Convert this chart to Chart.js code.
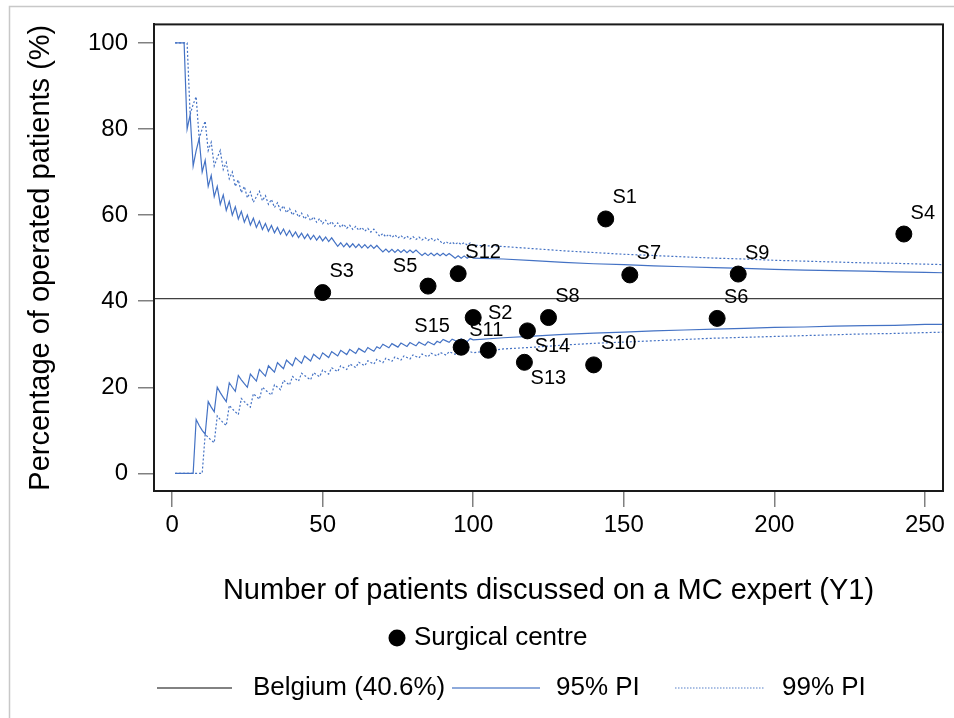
<!DOCTYPE html>
<html>
<head>
<meta charset="utf-8">
<script src="https://cdn.jsdelivr.net/npm/chart.js@4.4.1/dist/chart.umd.min.js"></script>
<style>
    html, body { margin: 0; padding: 0; background: #fff; }
    #wrap { width: 954px; height: 718px; }
</style>
</head>
<body>
<div id="wrap"><canvas id="funnelChart" width="954" height="718"></canvas></div>
<script>
// surgical centres
let centreNames = ['S1', 'S2', 'S3', 'S4', 'S5', 'S6', 'S7', 'S8', 'S9', 'S10', 'S11', 'S12', 'S13', 'S14', 'S15'];
let centrePatients = [144, 100, 50, 243, 85, 181, 152, 125, 188, 140, 105, 95, 117, 118, 96];
let centrePercent = [59.1, 36.2, 42.0, 55.6, 43.5, 36.0, 46.1, 36.2, 46.3, 25.2, 28.6, 46.4, 25.8, 33.1, 29.3];

let belgiumPercent = 40.6;

// funnel limits (number of patients -> %)
let limitPatients = [1, 2, 3, 4, 5, 6, 7, 8, 9, 10, 11, 12, 13, 14, 15, 16, 17, 18, 19, 20,
    21, 22, 23, 24, 25, 26, 27, 28, 29, 30, 31, 32, 33, 34, 35, 36, 37, 38, 39, 40,
    41, 42, 43, 44, 45, 46, 47, 48, 49, 50, 51, 52, 53, 54, 55, 56, 57, 58, 59, 60,
    61, 62, 63, 64, 65, 66, 67, 68, 69, 70, 71, 72, 73, 74, 75, 76, 77, 78, 79, 80,
    81, 82, 83, 84, 85, 86, 87, 88, 89, 90, 91, 92, 93, 94, 95, 96, 97, 98, 99, 100,
    110, 120, 130, 140, 150, 160, 170, 180, 190, 200, 210, 220, 230, 240, 250, 256];
let upper95 = [100, 100, 100, 100, 80, 83.33, 71.43, 75, 77.78, 70,
    72.73, 66.67, 69.23, 64.29, 66.67, 62.5, 64.71, 61.11, 63.16, 60,
    61.9, 59.09, 60.87, 58.33, 60, 57.69, 59.26, 57.14, 58.62, 56.67,
    58.06, 56.25, 57.58, 55.88, 57.14, 55.56, 56.76, 55.26, 56.41, 55,
    56.1, 54.76, 55.81, 54.55, 55.56, 54.35, 55.32, 54.17, 55.1, 54,
    54.9, 53.85, 54.72, 53.7, 52.73, 53.57, 52.63, 53.45, 52.54, 53.33,
    52.46, 53.23, 52.38, 53.13, 52.31, 53.03, 52.24, 52.94, 52.17, 51.43,
    52.11, 51.39, 52.05, 51.35, 52, 51.32, 51.95, 51.28, 51.9, 51.25,
    51.85, 51.22, 50.6, 51.19, 50.59, 51.16, 50.57, 51.14, 50.56, 51.11,
    50.55, 51.09, 50.54, 50, 50.53, 50, 50.52, 50, 50.51, 50,
    49.8, 49.4, 49.0, 48.7, 48.5, 48.2, 48.0, 47.8, 47.6, 47.4, 47.2, 47.1, 47.0, 46.8, 46.7, 46.6];
let upper99 = [100, 100, 100, 100, 100, 83.33, 85.71, 87.5, 77.78, 80,
    81.82, 75, 76.92, 71.43, 73.33, 75, 70.59, 72.22, 68.42, 70,
    66.67, 68.18, 65.22, 66.67, 64, 65.38, 62.96, 64.29, 65.52, 63.33,
    64.52, 62.5, 63.64, 61.76, 62.86, 61.11, 62.16, 60.53, 61.54, 60,
    60.98, 59.52, 60.47, 59.09, 60, 58.7, 59.57, 58.33, 59.18, 58,
    58.82, 57.69, 58.49, 57.41, 58.18, 57.14, 57.89, 56.9, 57.63, 56.67,
    57.38, 56.45, 57.14, 56.25, 56.92, 56.06, 56.72, 55.88, 55.07, 55.71,
    54.93, 55.56, 54.79, 55.41, 54.67, 55.26, 54.55, 55.13, 54.43, 55,
    54.32, 54.88, 54.22, 54.76, 54.12, 54.65, 54.02, 54.55, 53.93, 53.33,
    53.85, 53.26, 53.76, 53.19, 53.68, 53.13, 53.61, 53.06, 53.54, 53,
    52.7, 52.2, 51.7, 51.3, 50.9, 50.6, 50.3, 50.0, 49.8, 49.5, 49.3, 49.1, 48.9, 48.8, 48.6, 48.5];
let lower95 = [0, 0, 0, 0, 0, 0, 0, 12.5, 11.11, 10,
    9.09, 16.67, 15.38, 14.29, 20, 18.75, 17.65, 16.67, 21.05, 20,
    19.05, 22.73, 21.74, 20.83, 20, 23.08, 22.22, 21.43, 24.14, 23.33,
    22.58, 25, 24.24, 23.53, 25.71, 25, 24.32, 26.32, 25.64, 25,
    26.83, 26.19, 25.58, 27.27, 26.67, 26.09, 27.66, 27.08, 26.53, 28,
    27.45, 26.92, 28.3, 27.78, 27.27, 28.57, 28.07, 27.59, 28.81, 28.33,
    27.87, 29.03, 28.57, 28.13, 29.23, 28.79, 28.36, 29.41, 28.99, 30,
    29.58, 29.17, 30.14, 29.73, 29.33, 30.26, 29.87, 29.49, 30.38, 30,
    29.63, 30.49, 30.12, 29.76, 30.59, 30.23, 29.89, 30.68, 30.34, 31.11,
    30.77, 30.43, 31.18, 30.85, 30.53, 31.25, 30.93, 30.61, 31.31, 31,
    31.5, 31.9, 32.3, 32.6, 32.8, 33.1, 33.3, 33.5, 33.7, 33.9, 34.0, 34.2, 34.3, 34.4, 34.6, 34.6];
let lower99 = [0, 0, 0, 0, 0, 0, 0, 0, 0, 0,
    9.09, 8.33, 7.69, 7.14, 13.33, 12.5, 11.76, 11.11, 15.79, 15,
    14.29, 13.64, 17.39, 16.67, 16, 15.38, 18.52, 17.86, 17.24, 20,
    19.35, 18.75, 18.18, 20.59, 20, 19.44, 21.62, 21.05, 20.51, 22.5,
    21.95, 21.43, 23.26, 22.73, 22.22, 21.74, 23.4, 22.92, 22.45, 24,
    23.53, 23.08, 24.53, 24.07, 23.64, 25, 24.56, 24.14, 25.42, 25,
    24.59, 25.81, 25.4, 25, 26.15, 25.76, 25.37, 26.47, 26.09, 25.71,
    26.76, 26.39, 26.03, 27.03, 26.67, 26.32, 27.27, 26.92, 26.58, 27.5,
    27.16, 26.83, 27.71, 27.38, 27.06, 27.91, 27.59, 27.27, 28.09, 27.78,
    27.47, 28.26, 27.96, 27.66, 28.42, 28.13, 27.84, 28.57, 28.28, 28,
    28.9, 29.3, 29.8, 30.2, 30.5, 30.8, 31.1, 31.4, 31.6, 31.8, 32.0, 32.2, 32.4, 32.5, 32.7, 32.8];

let xTicks = [0, 50, 100, 150, 200, 250];
let yTicks = [0, 20, 40, 60, 80, 100];
let xMin = -6, xMax = 256;
let yMin = -4.1, yMax = 104.3;

const FONT = '"Liberation Sans", Arial, sans-serif';
const BLUE = '#4472C4';

Chart.defaults.font.family = FONT;
Chart.defaults.color = '#000';

function toPoints(xs, ys) {
    return xs.map((x, i) => ({x: x, y: ys[i]}));
}

// label offsets from the dot (default: up-right)
let labelOffsets = {
    S2: [27, -4], S5: [-23, -20], S11: [-2, -20], S13: [24, 16], S14: [25, 16], S15: [-29, -21], S10: [25, -21], S12: [25, -21]
};

const pointLabels = {
    id: 'pointLabels',
    afterDatasetsDraw(chart) {
        let ctx = chart.ctx;
        let meta = chart.getDatasetMeta(0);
        ctx.save();
        ctx.font = '20px ' + FONT;
        ctx.fillStyle = '#000';
        ctx.textAlign = 'center';
        ctx.textBaseline = 'middle';
        meta.data.forEach((pt, i) => {
            let off = labelOffsets[centreNames[i]] || [19, -21];
            ctx.fillText(centreNames[i], pt.x + off[0], pt.y + off[1]);
        });
        ctx.restore();
    }
};

function legendLine(ctx, x1, x2, y, color, width, dash) {
    ctx.beginPath();
    ctx.setLineDash(dash);
    ctx.strokeStyle = color;
    ctx.lineWidth = width;
    ctx.moveTo(x1, y);
    ctx.lineTo(x2, y);
    ctx.stroke();
    ctx.setLineDash([]);
}

const frameAndLegend = {
    id: 'frameAndLegend',
    afterDraw(chart) {
        let ctx = chart.ctx;
        let a = chart.chartArea;
        ctx.save();
        // box round the plot
        ctx.strokeStyle = '#1a1a1a';
        ctx.lineWidth = 2;
        ctx.strokeRect(a.left, a.top, a.right - a.left, a.bottom - a.top);

        // outer frame
        ctx.strokeStyle = '#c8c8c8';
        ctx.lineWidth = 1.5;
        ctx.beginPath();
        ctx.moveTo(9.5, 718);
        ctx.lineTo(9.5, 6.5);
        ctx.lineTo(954, 6.5);
        ctx.stroke();

        // legend
        ctx.font = '26px ' + FONT;
        ctx.fillStyle = '#000';
        ctx.textAlign = 'left';
        ctx.textBaseline = 'middle';
        ctx.beginPath();
        ctx.arc(397, 638, 8.5, 0, Math.PI * 2);
        ctx.fill();
        ctx.fillText('Surgical centre', 414, 638);

        legendLine(ctx, 157, 232, 688, '#595959', 1.5, []);
        ctx.fillText('Belgium (40.6%)', 253, 688);
        legendLine(ctx, 452, 540, 688, '#8eaadb', 2, []);
        ctx.fillText('95% PI', 556, 688);
        legendLine(ctx, 675, 765, 688, '#8eaadb', 1.5, [1.5, 1.5]);
        ctx.fillText('99% PI', 782, 688);
        ctx.restore();
    }
};

let ctx = document.getElementById('funnelChart').getContext('2d');

new Chart(ctx, {
    type: 'scatter',
    data: {
        datasets: [
            {
                label: 'Surgical centre',
                data: toPoints(centrePatients, centrePercent),
                backgroundColor: '#000',
                borderColor: '#000',
                pointRadius: 8,
                pointHoverRadius: 8
            },
            {
                label: 'Belgium (40.6%)',
                data: toPoints([xMin, xMax], [belgiumPercent, belgiumPercent]),
                showLine: true,
                borderColor: '#404040',
                borderWidth: 1.4,
                pointRadius: 0
            },
            {
                label: '95% PI upper',
                data: toPoints(limitPatients, upper95),
                showLine: true,
                borderColor: BLUE,
                borderWidth: 1.2,
                pointRadius: 0
            },
            {
                label: '95% PI lower',
                data: toPoints(limitPatients, lower95),
                showLine: true,
                borderColor: BLUE,
                borderWidth: 1.2,
                pointRadius: 0
            },
            {
                label: '99% PI upper',
                data: toPoints(limitPatients, upper99),
                showLine: true,
                borderColor: BLUE,
                borderWidth: 1.2,
                borderDash: [2, 2],
                pointRadius: 0
            },
            {
                label: '99% PI lower',
                data: toPoints(limitPatients, lower99),
                showLine: true,
                borderColor: BLUE,
                borderWidth: 1.2,
                borderDash: [2, 2],
                pointRadius: 0
            }
        ]
    },
    options: {
        responsive: false,
        animation: false,
        devicePixelRatio: 1,
        layout: {
            padding: {left: 0, top: 24, right: 11, bottom: 0}
        },
        plugins: {
            legend: {display: false},
            tooltip: {enabled: false}
        },
        scales: {
            x: {
                type: 'linear',
                min: xMin,
                max: xMax,
                afterBuildTicks: scale => { scale.ticks = xTicks.map(v => ({value: v})); },
                afterFit: scale => { scale.height = 227; },
                ticks: {font: {size: 24}, padding: 4, maxRotation: 0, autoSkip: false, color: '#000'},
                grid: {drawOnChartArea: false, drawTicks: true, tickLength: 16, color: '#808080', lineWidth: 1.5},
                border: {display: true, color: '#1a1a1a', width: 2},
                title: {
                    display: true,
                    text: 'Number of patients discussed on a MC expert (Y1)',
                    font: {size: 29},
                    color: '#000',
                    padding: {top: 0, bottom: 110}
                }
            },
            y: {
                min: yMin,
                max: yMax,
                afterBuildTicks: scale => { scale.ticks = yTicks.map(v => ({value: v})); },
                afterFit: scale => { scale.width = 154; },
                ticks: {font: {size: 24}, padding: 10, color: '#000'},
                grid: {drawOnChartArea: false, drawTicks: true, tickLength: 16, color: '#808080', lineWidth: 1.5},
                border: {display: true, color: '#1a1a1a', width: 2},
                title: {
                    display: true,
                    text: 'Percentage of operated patients (%)',
                    font: {size: 29},
                    color: '#000',
                    padding: {top: 24, bottom: 0}
                }
            }
        }
    },
    plugins: [pointLabels, frameAndLegend]
});
</script>
</body>
</html>
